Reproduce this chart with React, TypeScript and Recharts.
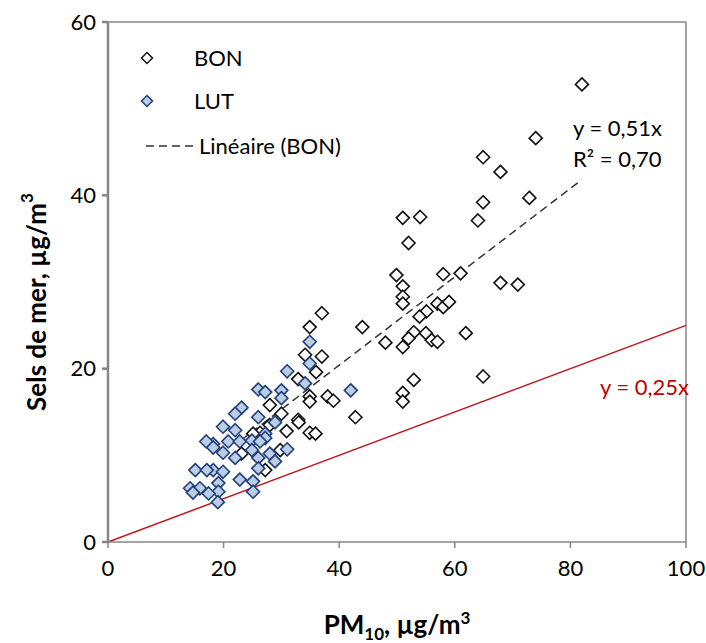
import { ScatterChart, Scatter, XAxis, YAxis, ReferenceLine, Label } from "recharts"

const bonX = [82, 74, 64.9, 67.9, 72.9, 64.9, 64, 51, 54, 52, 49.9, 51, 51, 51, 58, 61, 67.9, 70.9, 57, 58, 59, 55.1, 53.9, 52.9, 52, 51, 55, 56, 57, 61.9, 48, 44, 37, 34.9, 34.1, 37, 36, 32.9, 34.9, 34.9, 38, 39, 42.8, 52.9, 51, 51, 64.9, 28, 30, 32.9, 33, 30.9, 34.9, 35.9, 28, 26.3, 25.1, 23.1, 29.8, 27.2]
const bonY = [52.8, 46.6, 44.4, 42.7, 39.7, 39.2, 37.1, 37.4, 37.5, 34.5, 30.8, 29.5, 28.3, 27.5, 30.9, 31, 29.9, 29.7, 27.5, 27.1, 27.7, 26.6, 26, 24.2, 23.5, 22.5, 24.1, 23.3, 23.1, 24.1, 23, 24.8, 26.4, 24.8, 21.6, 21.4, 19.6, 18.8, 16.8, 16.2, 16.8, 16.3, 14.4, 18.7, 17.2, 16.2, 19.1, 15.8, 14.8, 14.1, 13.8, 12.8, 12.6, 12.5, 13.5, 12.6, 12.5, 10.2, 10.6, 8.3]

const lutX = [34.9, 34.9, 31, 34.1, 26, 27.2, 30, 30, 42, 23.1, 22, 26, 28.9, 19.9, 22, 27.2, 27.2, 18.2, 20.8, 22.8, 24.9, 26.3, 17, 19.9, 24.9, 28, 31, 22, 26, 28.9, 18.2, 19.9, 26, 15.1, 17.1, 19.1, 22.8, 25.1, 19.1, 25.1, 14.2, 15.9, 17.4, 14.7, 19, 18.2]
const lutY = [23.1, 20.6, 19.7, 18.3, 17.6, 17.3, 17.5, 16.6, 17.5, 15.5, 14.8, 14.4, 13.8, 13.3, 12.9, 12.5, 12, 11.3, 11.6, 11.6, 11.7, 11.6, 11.6, 10.3, 10.6, 10.2, 10.7, 9.7, 9.7, 9.3, 8.3, 8.1, 8.5, 8.3, 8.3, 6.8, 7.2, 7, 5.8, 5.8, 6.2, 6.2, 5.6, 5.7, 4.6, 10.9]

const xTicks = [0, 20, 40, 60, 80, 100]
const yTicks = [0, 20, 40, 60]

// trendline BON (y = 0,51x) over the BON x range, and reference y = 0,25x
const bonSlope = 0.51
const bonRange = [23, 82]
const refSlope = 0.25

const bon = bonX.map((x, i) => ({ x, y: bonY[i] }))
const lut = lutX.map((x, i) => ({ x, y: lutY[i] }))

const FONT = "Lato, 'Open Sans', sans-serif"

function Diamond(props: any) {
  const { cx, cy, fill, stroke } = props
  const r = 6.5
  return (
    <polygon
      points={`${cx},${cy - r} ${cx + r},${cy} ${cx},${cy + r} ${cx - r},${cy}`}
      fill={fill}
      stroke={stroke}
      strokeWidth={1.6}
    />
  )
}

function LegendIcon({ fill, stroke }: { fill: string; stroke: string }) {
  return (
    <svg width={14} height={14} style={{ display: "block" }}>
      <polygon points="7,1.5 12.5,7 7,12.5 1.5,7" fill={fill} stroke={stroke} strokeWidth={1.5} />
    </svg>
  )
}

export default function App() {
  return (
    <div style={{ position: "absolute", left: 0, top: 0, width: 706, height: 643, background: "#fff", fontFamily: FONT }}>
      <ScatterChart width={706} height={643} margin={{ top: 22, right: 20, left: 0, bottom: 0 }}>
        <XAxis
          type="number"
          dataKey="x"
          domain={[0, 100]}
          ticks={xTicks}
          height={101}
          stroke="#868686"
          strokeWidth={1.5}
          tickSize={6}
          tickMargin={12}
          tick={{ fill: "#000", fontSize: 22, fontFamily: FONT }}
        >
          <Label
            content={(p: any) => {
              const vb = p.viewBox
              return (
                <text x={vb.x + vb.width / 2} y={vb.y + 92} textAnchor="middle" fontSize={26} fontWeight="bold" fill="#000" fontFamily={FONT}>
                  PM<tspan fontSize={17} dy={6}>10</tspan>
                  <tspan dy={-6}>, µg/m</tspan>
                  <tspan fontSize={17} dy={-10}>3</tspan>
                </text>
              )
            }}
          />
        </XAxis>
        <YAxis
          type="number"
          dataKey="y"
          domain={[0, 60]}
          ticks={yTicks}
          width={108}
          stroke="#868686"
          strokeWidth={2.5}
          tickSize={6}
          tickMargin={6}
          tick={{ fill: "#000", fontSize: 22, fontFamily: FONT }}
        >
          <Label
            content={(p: any) => {
              const vb = p.viewBox
              const cx = 36
              const cy = vb.y + vb.height / 2 + 20
              return (
                <text x={cx} y={cy} transform={`rotate(-90 ${cx} ${cy})`} textAnchor="middle" dominantBaseline="central" fontSize={26} fontWeight="bold" fill="#000" fontFamily={FONT}>
                  Sels de mer, µg/m<tspan fontSize={17} dy={-10}>3</tspan>
                </text>
              )
            }}
          />
        </YAxis>
        <ReferenceLine y={60} stroke="#868686" strokeWidth={1.5} />
        <ReferenceLine x={100} stroke="#868686" strokeWidth={1.5} />
        <ReferenceLine
          segment={[{ x: 0, y: 0 }, { x: 100, y: 100 * refSlope }]}
          stroke="#c0161c"
          strokeWidth={1.5}
        />
        <ReferenceLine
          segment={[{ x: bonRange[0], y: bonRange[0] * bonSlope }, { x: bonRange[1], y: bonRange[1] * bonSlope }]}
          stroke="#333"
          strokeWidth={1.5}
          strokeDasharray="8 5"
        />
        <Scatter name="BON" data={bon} fill="#fff" stroke="#111" shape={Diamond} isAnimationActive={false} />
        <Scatter name="LUT" data={lut} fill="#b9cde5" stroke="#203f7a" shape={Diamond} isAnimationActive={false} />
      </ScatterChart>

      <div style={{ position: "absolute", left: 140, top: 44, fontSize: 22, color: "#000", lineHeight: "28px" }}>
        <div style={{ display: "flex", alignItems: "center", height: 28 }}>
          <LegendIcon fill="#fff" stroke="#111" />
          <span style={{ marginLeft: 40 }}>BON</span>
        </div>
        <div style={{ display: "flex", alignItems: "center", height: 28, marginTop: 15 }}>
          <LegendIcon fill="#b9cde5" stroke="#203f7a" />
          <span style={{ marginLeft: 40 }}>LUT</span>
        </div>
        <div style={{ display: "flex", alignItems: "center", height: 28, marginTop: 17 }}>
          <svg width={48} height={10} style={{ display: "block", marginLeft: 6 }}>
            <line x1={0} y1={5} x2={48} y2={5} stroke="#333" strokeWidth={1.5} strokeDasharray="8 5" />
          </svg>
          <span style={{ marginLeft: 5 }}>Linéaire (BON)</span>
        </div>
      </div>

      <div style={{ position: "absolute", left: 573, top: 112, fontSize: 22, color: "#000", lineHeight: "31px" }}>
        <div>y = 0,51x</div>
        <div>R² = 0,70</div>
      </div>
      <div style={{ position: "absolute", left: 600, top: 371, fontSize: 22, color: "#c00000", lineHeight: "31px" }}>
        y = 0,25x
      </div>
    </div>
  )
}
